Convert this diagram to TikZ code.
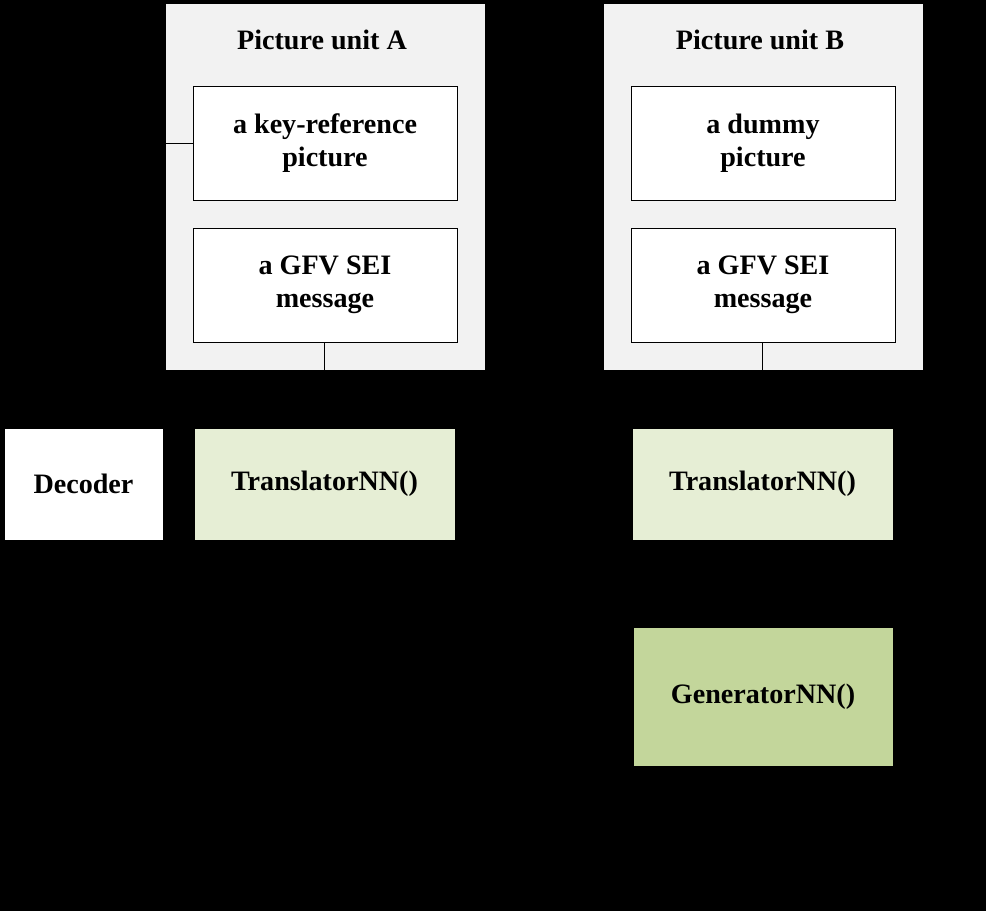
\documentclass[tikz,border=0pt]{standalone}
\usepackage{fontspec}
\setmainfont{Liberation Serif}
\definecolor{unitgray}{HTML}{F2F2F2}
\definecolor{lightgreen}{HTML}{E6EED5}
\definecolor{midgreen}{HTML}{C3D69B}
\tikzset{
  box/.style={draw, fill=white, align=center, font=\fontsize{16}{19}\selectfont\bfseries, inner sep=0pt},
  unit/.style={draw, fill=unitgray, inner sep=0pt}
}
\begin{document}
\begin{tikzpicture}[x=0.02cm, y=-0.02cm]
\fill[black] (0,0) rectangle (986,911);
\useasboundingbox (0,0) rectangle (986,911);
\node[unit, minimum width=320*0.02cm, minimum height=367*0.02cm] (ua) at (325,186.5) {};
\node[unit, minimum width=320*0.02cm, minimum height=367*0.02cm] (ub) at (763,186.5) {};
\node[font=\fontsize{16}{19}\selectfont\bfseries] (ta) at (322,40) {Picture unit A};
\node[font=\fontsize{16}{19}\selectfont\bfseries] (tb) at (760,40) {Picture unit B};
\node[box, minimum width=264*0.02cm, minimum height=114*0.02cm] (key) at (325,143) {a key-reference\\picture};
\node[box, minimum width=264*0.02cm, minimum height=114*0.02cm] (sa) at (325,285) {a GFV SEI\\message};
\node[box, minimum width=264*0.02cm, minimum height=114*0.02cm] (dum) at (763,143) {a dummy\\picture};
\node[box, minimum width=264*0.02cm, minimum height=114*0.02cm] (sb) at (763,285) {a GFV SEI\\message};
\node[box, minimum width=159*0.02cm, minimum height=112*0.02cm] (dec) at (83.5,484) {Decoder};
\node[box, fill=lightgreen, minimum width=261*0.02cm, minimum height=112*0.02cm] (tra) at (324.5,484) {TranslatorNN()};
\node[box, fill=lightgreen, minimum width=261*0.02cm, minimum height=112*0.02cm] (trb) at (762.5,484) {TranslatorNN()};
\node[box, fill=midgreen, minimum width=260*0.02cm, minimum height=139*0.02cm] (gen) at (763,696.5) {GeneratorNN()};
\coordinate (kl) at (ua.west |- key.west);
\path[draw] (kl) -- (key.west);
\path[draw] (sa.south -| tra.north) -- (tra.north);
\path[draw] (sb.south -| trb.north) -- (trb.north);
\path[draw] (trb) -- (gen);
\end{tikzpicture}
\end{document}
